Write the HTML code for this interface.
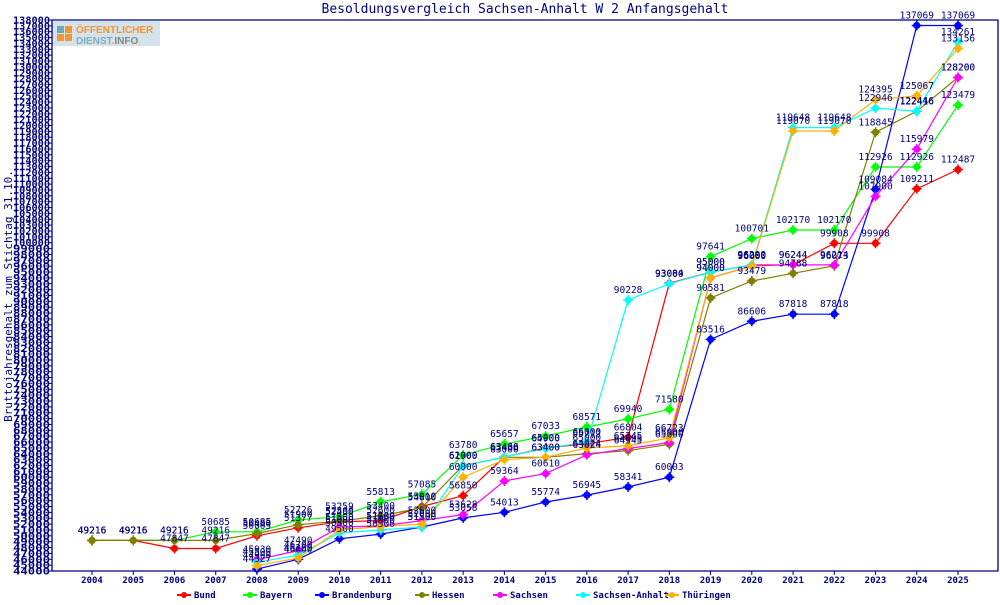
<!DOCTYPE html>
<html><head><meta charset="utf-8"><style>
body{margin:0;background:#fff;width:1000px;height:600px;overflow:hidden}
svg text{font-family:"DejaVu Sans Mono","Liberation Mono",monospace;fill:#000080}
</style></head><body>
<svg id="s" width="1000" height="600" xmlns="http://www.w3.org/2000/svg"></svg>
<script>
const s=document.getElementById('s');let h='';
const X0=92,DX=41.238,Y0=571,K=551/94000;
const xp=i=>X0+i*DX, yp=v=>Y0-(v-44000)*K;
h+=`<rect x="52" y="21" width="108" height="25" fill="#d4e3ea"/>`;
h+=`<rect x="57" y="26" width="7" height="7" fill="#6aa9b8"/><rect x="65" y="26" width="7" height="7" fill="#f79433"/><rect x="57" y="34" width="7" height="7" fill="#f79433"/><rect x="65" y="34" width="7" height="7" fill="#f79433"/>`;
h+=`<text x="76" y="33" font-size="10" font-weight="bold" style="fill:#f79433;font-family:'Liberation Sans',sans-serif">ÖFFENTLICHER</text>`;
h+=`<text x="76" y="44" font-size="10" font-weight="bold" style="fill:#7fb0c0;font-family:'Liberation Sans',sans-serif">DIENST<tspan style="fill:#f79433">.</tspan><tspan style="fill:#888">INFO</tspan></text>`;
h+=`<text x="525" y="13" font-size="13" text-anchor="middle">Besoldungsvergleich Sachsen-Anhalt W 2 Anfangsgehalt</text>`;
h+=`<text transform="translate(12,296) rotate(-90)" font-size="11" text-anchor="middle">Bruttojahresgehalt zum Stichtag 31.10.</text>`;
h+=`<path d="M52,20H998V571H52Z" fill="none" stroke="#000080" stroke-width="1.3"/>`;
for(let v=44000;v<=138000;v+=1000){const y=yp(v);h+=`<line x1="48" x2="52" y1="${y}" y2="${y}" stroke="#000080"/><text x="50" y="${y+3.5}" font-size="9.5" font-weight="bold" text-anchor="end" textLength="37" lengthAdjust="spacingAndGlyphs">${v}</text>`;}
for(let i=0;i<22;i++){h+=`<line x1="${xp(i)}" x2="${xp(i)}" y1="571" y2="575" stroke="#000080"/><text x="${xp(i)}" y="583" font-size="9" font-weight="bold" text-anchor="middle">${2004+i}</text>`;}
const N=null;
const S=[
["Bund","#ff0000",[49216,49216,47847,47847,50005,51377,52400,52600,55010,56850,63466,65000,65712,66804,93084,95000,96200,96244,99908,99908,109211,112487]],
["Bayern","#00ff00",[49216,49216,49216,50685,50685,52726,53259,55813,57085,63780,65657,67033,68571,69940,71580,97641,100701,102170,102170,112926,112926,123479]],
["Brandenburg","#0000ff",[N,N,N,N,44327,46000,49500,50300,51500,53058,54013,55774,56945,58341,60003,83516,86606,87818,87818,109084,137069,137069]],
["Hessen","#808000",[49216,49216,49216,49216,50400,51900,52500,53400,54800,62000,63400,63400,64024,64545,65600,90581,93479,94788,96073,118845,122416,128200]],
["Sachsen","#ff00ff",[N,N,N,N,45930,47490,51500,51700,52600,53628,59364,60610,63824,64895,65900,94000,96060,96244,96214,107900,115979,128200]],
["Sachsen-Anhalt","#00ffff",[N,N,N,N,45500,46700,50500,51000,51500,61900,63466,64900,66000,90228,93000,95000,96200,119648,119648,122946,122446,134261]],
["Thüringen","#ffb000",[N,N,N,N,44900,46200,51000,51600,52000,60000,63000,63400,65000,65345,66723,94000,96000,119070,119070,124395,125067,133156]]];
let labels='';
S.forEach(([n,c,d])=>{let p=[];d.forEach((v,i)=>{if(v!=null)p.push(`${xp(i).toFixed(1)},${yp(v).toFixed(1)}`)});
h+=`<polyline points="${p.join(' ')}" fill="none" stroke="${c}" stroke-width="1.2"/>`;
d.forEach((v,i)=>{if(v==null)return;const x=xp(i),y=yp(v);
h+=`<circle cx="${x}" cy="${y}" r="3.6" fill="${c}"/><path d="M${x-5},${y}h10M${x},${y-5}v10" stroke="${c}" stroke-width="1.5"/>`;
labels+=`<text x="${x}" y="${y-7}" font-size="9.5" text-anchor="middle">${v}</text>`;});});
h+=labels;
const lx=[177,243,315,415,493,576,665];
S.forEach(([n,c],i)=>{const x=lx[i];h+=`<line x1="${x}" x2="${x+14}" y1="595" y2="595" stroke="${c}" stroke-width="2"/><circle cx="${x+7}" cy="595" r="3" fill="${c}"/><text x="${x+17}" y="598" font-size="9" font-weight="bold">${n}</text>`;});
s.innerHTML=h;
</script>
</body></html>
